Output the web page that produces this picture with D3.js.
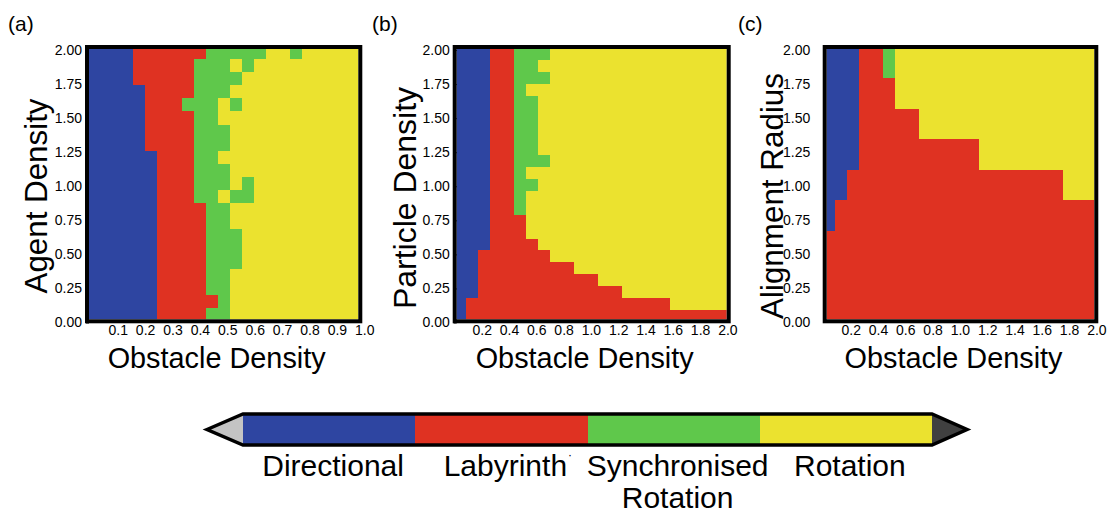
<!DOCTYPE html>
<html>
<head>
<meta charset="utf-8">
<script src="https://cdn.jsdelivr.net/npm/d3@7"></script>
<style>
  body { margin: 0; background: #fff; }
  svg { display: block; font-family: "Liberation Sans", Arial, sans-serif; }
</style>
</head>
<body>
<svg id="chart" width="1107" height="516"></svg>
<script>
// phases, in legend order
var phases = ["Directional", "Labyrinth", "Synchronised Rotation", "Rotation"];
var phaseCodes = ["B", "R", "G", "Y"];
var phaseColors = ["#2e45a1", "#df3222", "#5fc84b", "#ebe22f"];
var legendLines = [["Directional"], ["Labyrinth"], ["Synchronised", "Rotation"], ["Rotation"]];

var yTicks = [0, 0.25, 0.5, 0.75, 1.0, 1.25, 1.5, 1.75, 2.0];
var xTicksA = [0.1, 0.2, 0.3, 0.4, 0.5, 0.6, 0.7, 0.8, 0.9, 1.0];
var xTicksBC = [0.2, 0.4, 0.6, 0.8, 1.0, 1.2, 1.4, 1.6, 1.8, 2.0];

// (a) obstacle density vs agent density, cell centres
var obstacleA = [0.003, 0.047, 0.091, 0.135, 0.179, 0.223, 0.267, 0.311, 0.355, 0.399, 0.443, 0.487,
                 0.531, 0.575, 0.619, 0.663, 0.707, 0.751, 0.795, 0.839, 0.883, 0.927, 0.971];
var agentDensity = [0.058, 0.154, 0.250, 0.347, 0.443, 0.539, 0.635, 0.731, 0.828, 0.924, 1.020,
                    1.116, 1.212, 1.309, 1.405, 1.501, 1.597, 1.693, 1.790, 1.886, 1.982];
// rows listed top (largest y) to bottom
var phaseA = [
  "BBBBRRRRRRGGGGGYYGYYYYY",
  "BBBBRRRRRGGGYGYYYYYYYYY",
  "BBBBRRRRRGGGGYYYYYYYYYY",
  "BBBBBRRRRGGGYYYYYYYYYYY",
  "BBBBBRRRGGGYGYYYYYYYYYY",
  "BBBBBRRRRGGYYYYYYYYYYYY",
  "BBBBBRRRRGGGYYYYYYYYYYY",
  "BBBBBRRRRGGGYYYYYYYYYYY",
  "BBBBBBRRRGGYYYYYYYYYYYY",
  "BBBBBBRRRGGGYYYYYYYYYYY",
  "BBBBBBRRRGGGYGYYYYYYYYY",
  "BBBBBBRRRGGYGGYYYYYYYYY",
  "BBBBBBRRRRGGYYYYYYYYYYY",
  "BBBBBBRRRRGGYYYYYYYYYYY",
  "BBBBBBRRRRGGGYYYYYYYYYY",
  "BBBBBBRRRRGGGYYYYYYYYYY",
  "BBBBBBRRRRGGGYYYYYYYYYY",
  "BBBBBBRRRRGGYYYYYYYYYYY",
  "BBBBBBRRRRGGYYYYYYYYYYY",
  "BBBBBBRRRRRGYYYYYYYYYYY",
  "BBBBBBRRRRGGYYYYYYYYYYY"
];

// (b) obstacle density vs particle density
var obstacleBC = [0.044, 0.131, 0.219, 0.307, 0.394, 0.482, 0.569, 0.657, 0.745, 0.832, 0.920, 1.008,
                  1.095, 1.183, 1.270, 1.358, 1.446, 1.533, 1.621, 1.708, 1.796, 1.884, 1.971];
var particleDensity = [0.049, 0.137, 0.224, 0.311, 0.399, 0.486, 0.573, 0.660, 0.748, 0.835, 0.922, 1.010,
                       1.097, 1.184, 1.272, 1.359, 1.446, 1.533, 1.621, 1.708, 1.795, 1.883, 1.970];
var phaseB = [
  "BBBRRGGGYYYYYYYYYYYYYYY",
  "BBBRRGGYYYYYYYYYYYYYYYY",
  "BBBRRGGGYYYYYYYYYYYYYYY",
  "BBBRRGYYYYYYYYYYYYYYYYY",
  "BBBRRGGYYYYYYYYYYYYYYYY",
  "BBBRRGGYYYYYYYYYYYYYYYY",
  "BBBRRGGYYYYYYYYYYYYYYYY",
  "BBBRRGGYYYYYYYYYYYYYYYY",
  "BBBRRGGYYYYYYYYYYYYYYYY",
  "BBBRRGGGYYYYYYYYYYYYYYY",
  "BBBRRGYYYYYYYYYYYYYYYYY",
  "BBBRRGGYYYYYYYYYYYYYYYY",
  "BBBRRGYYYYYYYYYYYYYYYYY",
  "BBBRRGYYYYYYYYYYYYYYYYY",
  "BBBRRRYYYYYYYYYYYYYYYYY",
  "BBBRRRYYYYYYYYYYYYYYYYY",
  "BBBRRRRYYYYYYYYYYYYYYYY",
  "BBRRRRRRYYYYYYYYYYYYYYY",
  "BBRRRRRRRRYYYYYYYYYYYYY",
  "BBRRRRRRRRRRYYYYYYYYYYY",
  "BBRRRRRRRRRRRRYYYYYYYYY",
  "BRRRRRRRRRRRRRRRRRYYYYY",
  "BRRRRRRRRRRRRRRRRRRRRRR"
];

// (c) obstacle density vs alignment radius
var alignRadius = [0.112, 0.336, 0.560, 0.784, 1.008, 1.232, 1.456, 1.680, 1.904];
var phaseC = [
  "BBBRRGYYYYYYYYYYYYYYYYY",
  "BBBRRRYYYYYYYYYYYYYYYYY",
  "BBBRRRRRYYYYYYYYYYYYYYY",
  "BBBRRRRRRRRRRYYYYYYYYYY",
  "BBRRRRRRRRRRRRRRRRRRYYY",
  "BRRRRRRRRRRRRRRRRRRRRRR",
  "RRRRRRRRRRRRRRRRRRRRRRR",
  "RRRRRRRRRRRRRRRRRRRRRRR",
  "RRRRRRRRRRRRRRRRRRRRRRR"
];

var panels = [
  {tag: "(a)", tagX: 8, xs: obstacleA, ys: agentDensity, grid: phaseA, xTicks: xTicksA, xMax: 1,
   box: [89, 49, 358.3, 319.3], xRange: [90.3, 364.3], tick: 3, pad: 4,
   yTitle: "Agent Density", yTitleX: 47, yTitleY: 196, yTitleLen: 195},
  {tag: "(b)", tagX: 372, xs: obstacleBC, ys: particleDensity, grid: phaseB, xTicks: xTicksBC, xMax: 2,
   box: [456.7, 49, 726.7, 319.3], xRange: [454.4, 727.4], tick: 3, pad: 4,
   yTitle: "Particle Density", yTitleX: 416, yTitleY: 198, yTitleLen: 222},
  {tag: "(c)", tagX: 738, xs: obstacleBC, ys: alignRadius, grid: phaseC, xTicks: xTicksBC, xMax: 2,
   box: [826.7, 49, 1094.3, 319.3], xRange: [823.4, 1096.4], tick: 0, pad: 16.5,
   yTitle: "Alignment Radius", yTitleX: 783, yTitleY: 196, yTitleLen: 246}
];

// cell edges = midpoints between neighbouring centres (shared by both cells)
function cellEdges(c) {
  var e = [c[0] - (c[1] - c[0]) / 2];
  for (var k = 1; k < c.length; k++) e.push((c[k - 1] + c[k]) / 2);
  e.push(c[c.length - 1] + (c[c.length - 1] - c[c.length - 2]) / 2);
  return e;
}

var svg = d3.select("#chart");
var y = d3.scaleLinear().domain([0, 2]).range([322.5, 50]);

panels.forEach(function(p, i) {
  var g = svg.append("g");
  var x = d3.scaleLinear().domain([0, p.xMax]).range(p.xRange);
  var left = p.box[0], top = p.box[1], right = p.box[2], bottom = p.box[3];

  svg.append("clipPath").attr("id", "clip" + i)
    .append("rect")
    .attr("x", left).attr("y", top)
    .attr("width", right - left).attr("height", bottom - top);

  var xe = cellEdges(p.xs), ye = cellEdges(p.ys);
  var cells = [];
  p.grid.forEach(function(row, r) {
    var j = p.ys.length - 1 - r;
    row.split("").forEach(function(code, c) {
      cells.push({x0: xe[c], x1: xe[c + 1], y0: ye[j], y1: ye[j + 1], phase: phaseCodes.indexOf(code)});
    });
  });

  g.append("g").attr("clip-path", "url(#clip" + i + ")")
    .selectAll("rect").data(cells).join("rect")
    .attr("x", function(d) { return Math.round(x(d.x0)); })
    .attr("width", function(d) { return Math.round(x(d.x1)) - Math.round(x(d.x0)); })
    .attr("y", function(d) { return Math.round(y(d.y1)); })
    .attr("height", function(d) { return Math.round(y(d.y0)) - Math.round(y(d.y1)); })
    .attr("fill", function(d) { return phaseColors[d.phase]; })
    .attr("shape-rendering", "crispEdges");

  // thick frame
  g.append("rect")
    .attr("x", left - 2).attr("y", top - 2)
    .attr("width", right - left + 4).attr("height", bottom - top + 4)
    .attr("fill", "none").attr("stroke", "#000").attr("stroke-width", 4);

  var xAxis = g.append("g")
    .attr("transform", "translate(0," + bottom + ")")
    .call(d3.axisBottom(x).tickValues(p.xTicks).tickFormat(d3.format(".1f")).tickSize(0).tickPadding(6));
  var yAxis = g.append("g")
    .attr("transform", "translate(" + left + ",0)")
    .call(d3.axisLeft(y).tickValues(yTicks).tickFormat(d3.format(".2f")).tickSize(p.tick).tickPadding(p.pad));
  [xAxis, yAxis].forEach(function(a) {
    a.select(".domain").remove();
    a.attr("font-family", null).attr("font-size", 14);
    a.selectAll("text").attr("fill", "#000");
    a.selectAll("line").attr("stroke", "#000");
  });

  g.append("text")
    .attr("x", (left + right) / 2 - 7).attr("y", 367.5)
    .attr("text-anchor", "middle").attr("font-size", 29)
    .attr("textLength", 218).attr("lengthAdjust", "spacingAndGlyphs")
    .text("Obstacle Density");

  g.append("text")
    .attr("transform", "translate(" + p.yTitleX + "," + p.yTitleY + ") rotate(-90)")
    .attr("text-anchor", "middle").attr("font-size", 31)
    .attr("textLength", p.yTitleLen).attr("lengthAdjust", "spacingAndGlyphs")
    .text(p.yTitle);

  g.append("text")
    .attr("x", p.tagX).attr("y", 31)
    .attr("font-size", 21)
    .text(p.tag);
});

// colour bar legend
var lx = d3.scaleBand().domain(phases).range([243, 932]);
var barTop = 414, barBot = 445, barMid = (barTop + barBot) / 2;
var leg = svg.append("g");

leg.selectAll("rect").data(phases).join("rect")
  .attr("x", function(d) { return lx(d); })
  .attr("y", barTop)
  .attr("width", lx.bandwidth())
  .attr("height", barBot - barTop)
  .attr("fill", function(d, i) { return phaseColors[i]; })
  .attr("shape-rendering", "crispEdges");

var x0 = lx.range()[0], x1 = lx.range()[1];
leg.append("polygon")
  .attr("points", [[x0, barTop], [x0 - 36, barMid], [x0, barBot]].join(" "))
  .attr("fill", "#c4c4c4");
leg.append("polygon")
  .attr("points", [[x1, barTop], [x1 + 35, barMid], [x1, barBot]].join(" "))
  .attr("fill", "#404040");
leg.append("polygon")
  .attr("points", [[x0 - 36, barMid], [x0, barTop], [x1, barTop], [x1 + 35, barMid], [x1, barBot], [x0, barBot]].join(" "))
  .attr("fill", "none").attr("stroke", "#000").attr("stroke-width", 3.5);

var labels = leg.selectAll("text.lab").data(phases).join("text")
  .attr("class", "lab")
  .attr("x", function(d) { return lx(d) + lx.bandwidth() / 2 + 4; })
  .attr("y", 476)
  .attr("text-anchor", "middle")
  .attr("font-size", 30);
labels.each(function(d, i) {
  var t = d3.select(this);
  legendLines[i].forEach(function(line, j) {
    t.append("tspan")
      .attr("x", lx(d) + lx.bandwidth() / 2 + 4)
      .attr("dy", j === 0 ? 0 : 32)
      .text(line);
  });
});

// stray dot after "Labyrinth"
var labNode = labels.filter(function(d) { return d === "Labyrinth"; }).node();
var labBox = labNode.getBBox();
leg.append("text")
  .attr("x", labBox.x + labBox.width + 1).attr("y", 459)
  .attr("font-size", 12)
  .text("·");
</script>
</body>
</html>
